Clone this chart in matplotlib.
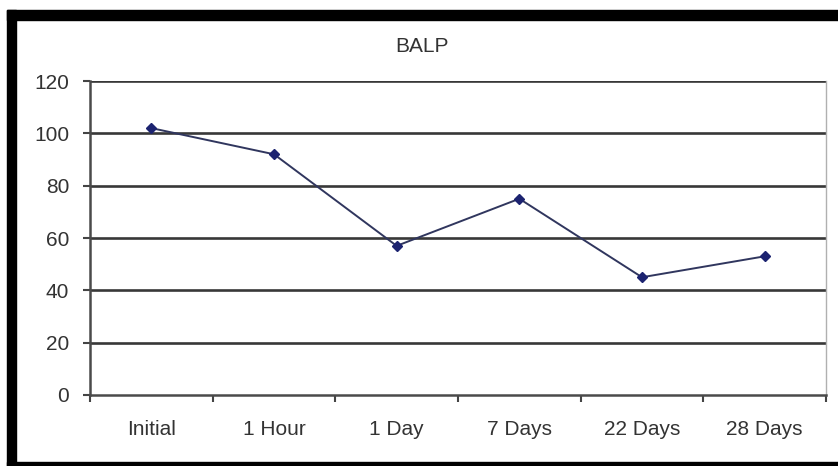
import matplotlib
matplotlib.use('Agg')
import matplotlib.pyplot as plt
from matplotlib.patches import Rectangle

plt.rcParams['font.family'] = ['Liberation Sans', 'DejaVu Sans']

categorias = ['Initial', '1 Hour', '1 Day', '7 Days', '22 Days', '28 Days']
valores = [102, 92, 57, 75, 45, 53]
yticks = [0, 20, 40, 60, 80, 100, 120]

W, H = 838, 466
fig = plt.figure(figsize=(W / 100, H / 100), dpi=100)
fig.patch.set_facecolor('white')

# moldura preta (estilo print do Excel)
fig.patches.append(Rectangle((7 / W, 1 - 20 / H), 1 - 7 / W, 10 / H,
                             transform=fig.transFigure, color='black', zorder=0))
fig.patches.append(Rectangle((7 / W, 0), 9 / W, 1 - 10 / H,
                             transform=fig.transFigure, color='black', zorder=0))
fig.patches.append(Rectangle((7 / W, 0), 1 - 7 / W, 4 / H,
                             transform=fig.transFigure, color='black', zorder=0))

ax = fig.add_axes([90 / W, (H - 395) / H, (826 - 90) / W, (395 - 81) / H])
x = list(range(len(categorias)))

for y in yticks[1:]:
    ax.axhline(y, color='#383838', lw=1.9, zorder=1)

ax.plot(x, valores, color='#30365e', lw=1.4, marker='D', markersize=5.5,
        markerfacecolor='#1c2370', markeredgecolor='#1c2370', zorder=3)

ax.set_xlim(-0.5, len(categorias) - 0.5)
ax.set_ylim(0, 120)
ax.set_yticks(yticks)
ax.set_yticklabels([str(v) for v in yticks])

# ticks nas divisões, rótulos no centro
ax.set_xticks([i - 0.5 for i in range(len(categorias) + 1)])
ax.set_xticklabels([])
ax.set_xticks(x, minor=True)
ax.set_xticklabels(categorias, minor=True)
ax.tick_params(axis='x', which='minor', length=0, pad=18, labelsize=15, labelcolor='#333333')
ax.tick_params(axis='x', which='major', length=5, width=1.5, color='#444444', direction='out')
ax.tick_params(axis='y', length=5, width=1.5, color='#444444', pad=10,
               labelsize=15, labelcolor='#333333', direction='out')

for s in ['left', 'bottom']:
    ax.spines[s].set_color('#4a4a4a')
    ax.spines[s].set_linewidth(1.8)
ax.spines['top'].set_visible(False)
ax.spines['right'].set_color('#b0b0b0')
ax.spines['right'].set_linewidth(1.0)

fig.text(422 / W, 1 - 46 / H, 'BALP', ha='center', va='center',
         fontsize=15, color='#333333')

plt.savefig('out.png', dpi=100)
